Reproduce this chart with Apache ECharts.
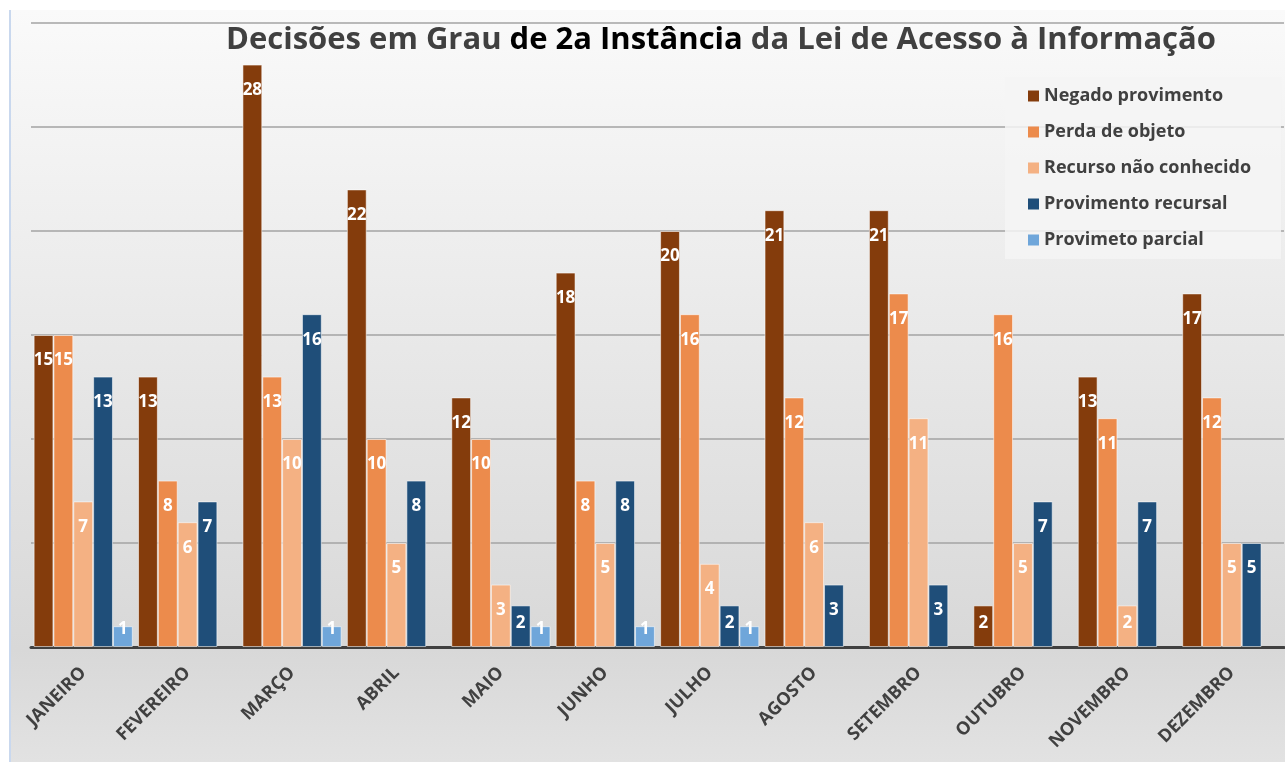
<!DOCTYPE html>
<html lang="pt-BR">
<head>
<meta charset="UTF-8">
<title>Decisões em Grau de 2a Instância</title>
<script src="https://cdn.jsdelivr.net/npm/echarts@6/dist/echarts.min.js"></script>
</head>
<body style="margin:0">
<div id="container" style="width:1285px;height:762px"></div>
<script>
const meses = ["JANEIRO", "FEVEREIRO", "MARÇO", "ABRIL", "MAIO", "JUNHO",
  "JULHO", "AGOSTO", "SETEMBRO", "OUTUBRO", "NOVEMBRO", "DEZEMBRO"];
const negadoProvimento = [15, 13, 28, 22, 12, 18, 20, 21, 21, 2, 13, 17];
const perdaDeObjeto = [15, 8, 13, 10, 10, 8, 16, 12, 17, 16, 11, 12];
const recursoNaoConhecido = [7, 6, 10, 5, 3, 5, 4, 6, 11, 5, 2, 5];
const provimentoRecursal = [13, 7, 16, 8, 2, 8, 2, 3, 3, 7, 7, 5];
const provimetoParcial = [1, null, 1, null, 1, 1, 1, null, null, null, null, null];

const font = "'Open Sans', sans-serif";
const cinza = "#404040";

// nome, valores, cor
const series = [
  ["Negado provimento", negadoProvimento, "#843c0c"],
  ["Perda de objeto", perdaDeObjeto, "#ec8b4c"],
  ["Recurso não conhecido", recursoNaoConhecido, "#f4b183"],
  ["Provimento recursal", provimentoRecursal, "#1f4e79"],
  ["Provimeto parcial", provimetoParcial, "#6fa6da"]
];

// rótulo dentro da barra, perto do topo (barras pequenas: mais para cima)
function rotulo(v) {
  if (v === 1) return { distance: -6 };
  if (v === 2) return { distance: 9 };
  return undefined;
}

const chart = echarts.init(document.getElementById("container"));

const option = {
  animation: false,
  textStyle: { fontFamily: font },
  graphic: [
    {
      type: "rect", z: -10, silent: true,
      shape: { x: 10, y: 10, width: 1275, height: 752 },
      style: {
        fill: new echarts.graphic.LinearGradient(0, 0, 0, 1, [
          { offset: 0, color: "#fafafa" },
          { offset: 0.85, color: "#d8d8d8" },
          { offset: 1, color: "#e2e2e2" }
        ])
      }
    },
    {
      type: "line", z: -9, silent: true,
      shape: { x1: 10, y1: 10, x2: 10, y2: 762 },
      style: { stroke: "#c9d8ee", lineWidth: 2 }
    },
    {
      type: "text", z: 10,
      style: {
        x: 721, y: 40, align: "center", verticalAlign: "middle",
        text: "{a|Decisões em Grau }{b|de 2a Instância}{a| da Lei de Acesso à Informação}",
        rich: {
          a: { fontFamily: font, fontSize: 31, fontWeight: "bold", fill: cinza },
          b: { fontFamily: font, fontSize: 31, fontWeight: "bold", fill: "#000" }
        }
      }
    }
  ],
  legend: {
    orient: "vertical",
    left: 1005,
    top: 77,
    padding: [10, 30, 10, 23],
    backgroundColor: "rgba(245,245,245,0.85)",
    itemWidth: 11,
    itemHeight: 11,
    itemGap: 18,
    itemStyle: { borderWidth: 0 },
    textStyle: { fontFamily: font, fontSize: 18, fontWeight: "bold", color: cinza, lineHeight: 18 },
    data: series.map(s => ({ name: s[0], icon: "rect" }))
  },
  grid: { left: 31, right: 1, top: 23, bottom: 115 },
  xAxis: [
    {
      type: "category",
      data: meses,
      axisLine: { lineStyle: { color: cinza, width: 3 } },
      axisTick: { length: 6, lineStyle: { color: cinza, width: 3 } },
      axisLabel: {
        interval: 0, rotate: 45, margin: 23,
        fontFamily: font, fontSize: 18, fontWeight: "bold", color: cinza
      }
    },
    {
      type: "category",
      data: meses,
      position: "bottom",
      axisLine: { show: false },
      axisTick: { inside: true, length: 6, lineStyle: { color: cinza, width: 3 } },
      axisLabel: { show: false }
    },
    {
      type: "category",
      data: meses,
      position: "bottom",
      axisLine: { show: false },
      axisTick: { alignWithLabel: true, length: 4, lineStyle: { color: cinza, width: 3 } },
      axisLabel: { show: false }
    }
  ],
  yAxis: {
    type: "value",
    min: 0, max: 30, interval: 5,
    axisLine: { show: false },
    axisTick: { show: false },
    axisLabel: { show: false },
    splitLine: { lineStyle: { color: "#a3a3a3", width: 1.5 } }
  },
  series: series.map(([nome, valores, cor]) => ({
    name: nome,
    type: "bar",
    barGap: "0%",
    barCategoryGap: "5%",
    itemStyle: { color: cor, borderColor: "rgba(255,255,255,0.55)", borderWidth: 1 },
    label: {
      show: true,
      position: "insideTop",
      distance: 17,
      color: "#fff",
      fontFamily: font,
      fontSize: 17,
      fontWeight: "bold"
    },
    data: valores.map(v => v === null ? null : { value: v, label: rotulo(v) })
  }))
};

chart.setOption(option);
</script>
</body>
</html>
